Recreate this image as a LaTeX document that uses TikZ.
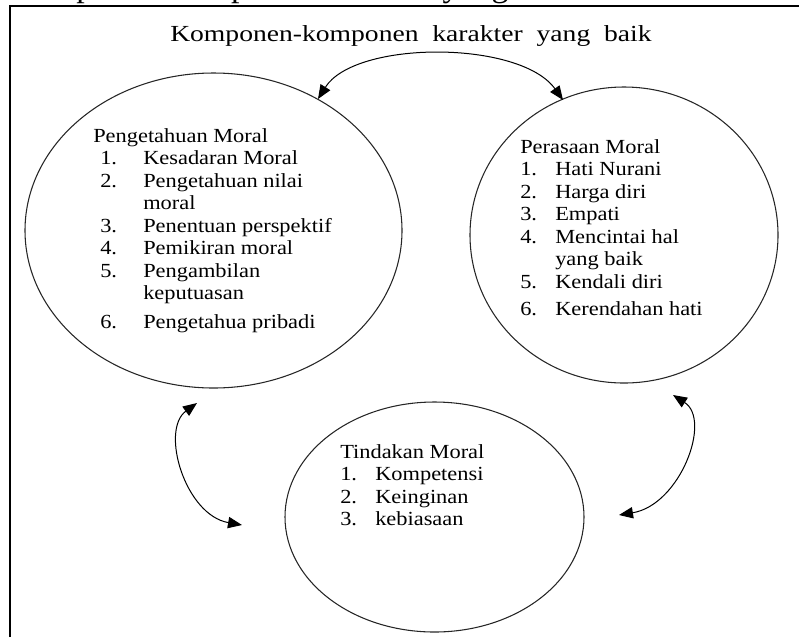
\documentclass[tikz,border=0pt]{standalone}
\usepackage{fontspec}
\setmainfont{Liberation Serif}
\newfontfamily\itemfont[FakeStretch=1.12]{Liberation Serif}
\newfontfamily\topicfont[FakeStretch=1.2,WordSpace=2]{Liberation Serif}
\usetikzlibrary{shapes.geometric,arrows.meta,positioning,calc}

\begin{document}
\begin{tikzpicture}[
    x=0.75pt, y=-0.75pt,
    bubble/.style={ellipse, draw=black!85, line width=0.8pt, inner sep=0pt},
    link/.style={{Triangle[length=10.5pt,width=8.5pt]}-{Triangle[length=10.5pt,width=8.5pt]}, line width=0.75pt},
    frame/.style={draw=black, line width=0.9pt},
    list/.style={anchor=base west, inner sep=0pt, font=\itemfont\fontsize{15pt}{16.9pt}\selectfont},
    heading/.style={anchor=base west, inner sep=0pt, font=\topicfont\fontsize{17.25pt}{20pt}\selectfont}
]
    \useasboundingbox (0,0) rectangle (799,637);

    % Frame
    \draw[frame] (10,637) |- (799,6);
    \node[anchor=base west, inner sep=0pt, font=\fontsize{25.5pt}{30pt}\selectfont] (caption) at (8,-4) {Komponen-komponen karakter yang baik};

    % Title
    \node[heading] (title) at (170,41.5) {Komponen-komponen karakter yang baik};

    % Ellipses
    \node[bubble, minimum width=282.75pt, minimum height=236.25pt] (pengetahuan) at (213.5,230.5) {};
    \node[bubble, minimum width=231pt, minimum height=222pt] (perasaan) at (624,235) {};
    \node[bubble, minimum width=224.25pt, minimum height=172.5pt] (tindakan) at (434.5,517) {};

    % Lists
    \node[list] (pengetahuanlist) at (93,142) {%
        \begin{tabular}[t]{@{\hspace{5.25pt}}p{32.25pt}@{}l@{}}
        \multicolumn{2}{@{}l@{}}{Pengetahuan Moral}\\
        1. & Kesadaran Moral\\
        2. & Pengetahuan nilai\\
           & moral\\
        3. & Penentuan perspektif\\
        4. & Pemikiran moral\\
        5. & Pengambilan\\
           & keputuasan\\[5pt]
        6. & Pengetahua pribadi
        \end{tabular}};
    \node[list] (perasaanlist) at (520,153) {%
        \begin{tabular}[t]{@{}p{26.25pt}@{}l@{}}
        \multicolumn{2}{@{}l@{}}{Perasaan Moral}\\
        1. & Hati Nurani\\
        2. & Harga diri\\
        3. & Empati\\
        4. & Mencintai hal\\
           & yang baik\\
        5. & Kendali diri\\[3.5pt]
        6. & Kerendahan hati
        \end{tabular}};
    \node[list] (tindakanlist) at (340,458) {%
        \begin{tabular}[t]{@{}p{26.25pt}@{}l@{}}
        \multicolumn{2}{@{}l@{}}{Tindakan Moral}\\
        1. & Kompetensi\\
        2. & Keinginan\\
        3. & kebiasaan
        \end{tabular}};

    % Arrow ends
    \coordinate (topleft) at (318,99);
    \coordinate (topright) at (563,100);
    \coordinate (leftup) at (197,403);
    \coordinate (leftdown) at (242,525);
    \coordinate (rightup) at (673,395);
    \coordinate (rightdown) at (619,515);

    % Arrows
    \draw[link] (topleft) .. controls (355,40) and (520,40) .. (topright);
    \draw[link] (leftup) .. controls (160,430) and (185,515) .. (leftdown);
    \draw[link] (rightup) .. controls (712,420) and (680,505) .. (rightdown);
\end{tikzpicture}
\end{document}
